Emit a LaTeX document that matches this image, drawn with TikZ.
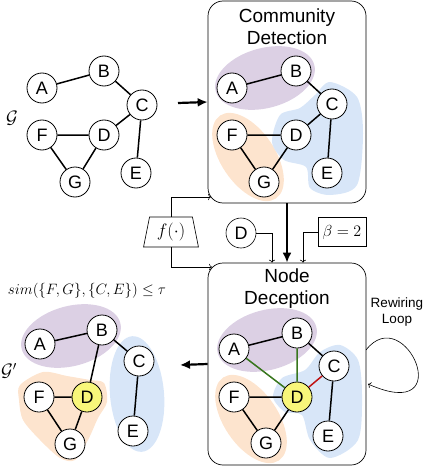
\documentclass[tikz,border=0pt]{standalone}
\usepackage{fix-cm}
\usepackage{fontspec}
\setmainfont{Liberation Sans}
\usetikzlibrary{shapes.geometric,arrows.meta}

\definecolor{purp}{RGB}{220,208,228}
\definecolor{bluecom}{RGB}{216,230,248}
\definecolor{orcom}{RGB}{253,228,206}
\definecolor{ydec}{RGB}{248,246,122}
\definecolor{gnew}{RGB}{56,118,29}
\definecolor{rdel}{RGB}{192,20,20}

\tikzset{
  vert/.style={circle,draw,line width=0.8pt,fill=white,minimum size=30pt,inner sep=0pt,font=\fontsize{18}{18}\selectfont},
  edge/.style={line width=1.5pt},
  box/.style={draw,line width=0.7pt,rounded corners=15pt,minimum width=158pt,minimum height=202pt},
  ttl/.style={align=center,font=\fontsize{19}{22}\selectfont},
  thin arr/.style={line width=0.6pt,->},
  big arr/.style={line width=2.2pt,-{Latex[length=10pt,width=9pt]}}
}

\begin{document}
\begin{tikzpicture}[x=1pt,y=-1pt]
        \useasboundingbox (0,0) rectangle (424,468);

        % original graph
        \node at (12,118) {\fontsize{18}{18}\selectfont$\mathcal{G}$};
        \node[vert] (gA) at (42,88) {A};
        \node[vert] (gB) at (104,71) {B};
        \node[vert] (gC) at (142,105) {C};
        \node[vert] (gF) at (42,135) {F};
        \node[vert] (gD) at (104,135) {D};
        \node[vert] (gG) at (75,182) {G};
        \node[vert] (gE) at (136,173) {E};
        \draw[edge] (gA) -- (gB) (gB) -- (gC) (gC) -- (gD) (gC) -- (gE) (gF) -- (gD) (gF) -- (gG) (gD) -- (gG);
        \coordinate (gout) at (178,103);

        % community detection
        \node[box] (comm) at (287,102) {};
        \node[ttl] at (287,27) {Community\\Detection};
        \fill[purp,rotate around={15:(265,78)}] (265,78) ellipse [x radius=51,y radius=30];
        \fill[orcom,rotate around={-56:(248,157)}] (248,157) ellipse [x radius=50,y radius=27];
        \fill[bluecom] plot[smooth cycle] coordinates {(330,82) (357,97) (363,133) (357,185) (330,195) (310,188) (306,167) (284,160) (272,142) (280,115) (300,108) (315,95)};
        \node[vert] (cA) at (232,88) {A};
        \node[vert] (cB) at (296,71) {B};
        \node[vert] (cC) at (332,104) {C};
        \node[vert] (cF) at (232,135) {F};
        \node[vert] (cD) at (296,135) {D};
        \node[vert] (cG) at (264,182) {G};
        \node[vert] (cE) at (327,173) {E};
        \draw[edge] (cA) -- (cB) (cB) -- (cC) (cC) -- (cD) (cC) -- (cE) (cF) -- (cD) (cF) -- (cG) (cD) -- (cG);
        \draw[big arr] (gout) -- (comm.west);

        % node deception
        \node[box] (dec) at (287,364) {};
        \node[ttl] at (287,289) {Node\\Deception};
        \fill[purp,rotate around={15:(267,340)}] (267,340) ellipse [x radius=51,y radius=30];
        \fill[orcom,rotate around={-56:(251,419)}] (251,419) ellipse [x radius=50,y radius=27];
        \fill[bluecom] plot[smooth cycle] coordinates {(340,345) (358,360) (362,395) (358,440) (330,458) (310,440) (302,415) (285,412) (273,397) (282,378) (305,370) (320,352)};
        \node[vert] (dA) at (234,349) {A};
        \node[vert] (dB) at (297,333) {B};
        \node[vert] (dC) at (334,366) {C};
        \node[vert] (dF) at (234,397) {F};
        \node[vert,fill=ydec] (dD) at (297,397) {D};
        \node[vert] (dG) at (266,443) {G};
        \node[vert] (dE) at (328,436) {E};
        \draw[edge] (dA) -- (dB) (dB) -- (dC) (dC) -- (dE) (dF) -- (dD) (dF) -- (dG) (dD) -- (dG);
        \draw[edge,gnew] (dA) -- (dD) (dB) -- (dD);
        \draw[edge,rdel] (dC) -- (dD);
        \draw[big arr] (comm.south) -- (dec.north);

        % inputs
        \node[vert,line width=0.6pt] (tgt) at (241,233) {D};
        \node[draw,line width=0.6pt,minimum width=48pt,minimum height=29pt,inner sep=0pt] (beta) at (342,232) {\fontsize{16}{16}\selectfont$\beta=2$};
        \node[draw,line width=0.6pt,trapezium,trapezium left angle=78,trapezium right angle=78,trapezium stretches=true,minimum width=55pt,minimum height=30pt,inner sep=1pt] (fsim) at (171,232) {\fontsize{18}{18}\selectfont$f(\cdot)$};
        \coordinate (fin1) at (211,197);
        \coordinate (fin2) at (212,267);
        \draw[thin arr] (tgt.east) -| ([xshift=-15pt]dec.north);
        \draw[thin arr] (beta.west) -| ([xshift=16pt]dec.north);
        \draw[thin arr] (fsim.north) |- (fin1);
        \draw[thin arr] (fsim.south) |- (fin2);

        % rewiring loop
        \coordinate (loopout) at (366,350);
        \coordinate (loopin) at (368,384);
        \draw[thin arr] (loopout) .. controls (405,300) and (460,425) .. (loopin);
        \node[align=center,font=\fontsize{13.5}{16}\selectfont] at (397,312) {Rewiring\\Loop};

        % deceived graph
        \node at (87,291) {\fontsize{15}{15}\selectfont$sim(\{F,G\},\{C,E\})\leq\tau$};
        \node at (9,371) {\fontsize{18}{18}\selectfont$\mathcal{G}'$};
        \fill[purp,rotate around={15:(71,336)}] (71,336) ellipse [x radius=51,y radius=30];
        \fill[bluecom,rotate around={-85:(137,394)}] (137,394) ellipse [x radius=58,y radius=27];
        \fill[orcom] plot[smooth cycle] coordinates {(20,385) (43,372) (67,376) (90,380) (104,383) (107,402) (98,418) (88,440) (75,460) (60,458) (40,440) (23,420) (19,400)};
        \node[vert] (rA) at (40,344) {A};
        \node[vert] (rB) at (102,330) {B};
        \node[vert] (rC) at (139,361) {C};
        \node[vert] (rF) at (39,397) {F};
        \node[vert,fill=ydec] (rD) at (87,397) {D};
        \node[vert] (rG) at (70,444) {G};
        \node[vert] (rE) at (133,431) {E};
        \draw[edge] (rA) -- (rB) (rB) -- (rC) (rB) -- (rD) (rC) -- (rE) (rF) -- (rD) (rF) -- (rG) (rD) -- (rG);
        \coordinate (rin) at (180,365);
        \draw[big arr] (dec.west) -- (rin);
\end{tikzpicture}
\end{document}
